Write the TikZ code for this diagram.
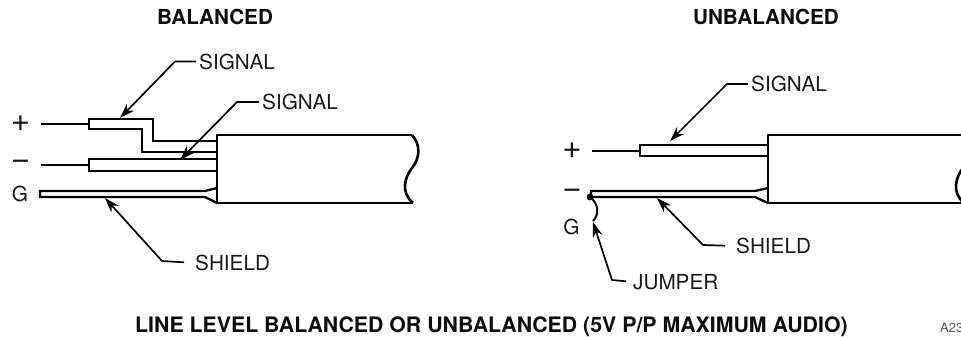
\documentclass[tikz,border=0pt]{standalone}
\usepackage{fontspec}
\setmainfont{TeX Gyre Heros}
\usetikzlibrary{arrows.meta}
\tikzset{
  x=1pt,y=-1pt,
  wire/.style={line width=2.3pt,line join=miter},
  jacket/.style={line width=2.6pt,line join=round},
  lead/.style={line width=2pt},
  leader/.style={line width=1.7pt,line join=round,shorten <=3pt,-{Stealth[length=15pt,width=10pt]}},
  lbl/.style={font=\fontsize{20.7}{22}\selectfont,inner sep=0pt,anchor=west,text=black!90},
  sym/.style={font=\fontsize{33}{34}\selectfont,inner sep=0pt,text=black!90},
  gl/.style={font=\fontsize{20.7}{22}\selectfont,inner sep=0pt,text=black!90},
  ttl/.style={font=\bfseries\fontsize{20.7}{22}\selectfont,inner sep=0pt,text=black!95},
  ttlb/.style={font=\bfseries\fontsize{21.3}{22}\selectfont,inner sep=0pt,text=black!95},
}
\begin{document}
\begin{tikzpicture}
\useasboundingbox (0,0) rectangle (961,337);
\clip (0,0) rectangle (961,337);
% titles
\node[ttl] (t1) at (215,17) {BALANCED};
\node[ttl] (t2) at (766,17) {UNBALANCED};
\node[ttlb,anchor=base west] (t3) at (135,332) {LINE LEVEL BALANCED OR UNBALANCED (5V P/P MAXIMUM AUDIO)};
\node[inner sep=0pt,anchor=west,font=\fontsize{13}{14}\selectfont,text=black!65] (ref) at (940,328) {A23};
% balanced cable
\draw[jacket] (412,135) -- (217,135) -- (217,203) -- (413,203);
\draw[jacket] (412,135) .. controls (421,145) and (420,158) .. (412,168) .. controls (405,177) and (400,192) .. (413,203);
% plus conductor
\node[sym] (p1) at (20.5,124) {+};
\coordinate (p1a) at (41,124); \coordinate (p1b) at (89,124);
\draw[lead] (p1a) -- (p1b);
\draw[wire] (217,141) -- (153,141) -- (153,119) -- (89,119) -- (89,129) -- (142,129) -- (142,152) -- (217,152);
% minus conductor
\node[sym] (m1) at (20.5,165) {\textminus};
\coordinate (m1a) at (41,165); \coordinate (m1b) at (89,165);
\draw[lead] (m1a) -- (m1b);
\draw[wire] (217,159) -- (89,159) -- (89,171) -- (217,171);
% shield
\node[gl] (g1) at (20,194) {G};
\draw[wire] (217,188) -- (205,191) -- (40,191) -- (40,197) -- (205,197) -- (217,203);
% balanced leaders
\node[lbl] (s1) at (199,61.5) {SIGNAL};
\node[lbl] (s2) at (262,102) {SIGNAL};
\node[lbl] (s3) at (195,263) {SHIELD};
\coordinate (a1) at (120,118); \coordinate (a2) at (180,160); \coordinate (a3) at (105,198);
\draw[leader] (s1.west) -- (175,61.5) -- (a1);
\draw[leader] (s2.west) -- (237,102) -- (a2);
\draw[leader,shorten <=11pt] (s3.west) -- (162,261) -- (a3);
% unbalanced cable
\draw[jacket] (961,135) -- (768,135) -- (768,203) -- (961,203);
\draw[jacket] (963,168) .. controls (956,177) and (951,192) .. (964,203);
% plus conductor
\node[sym] (p2) at (572,151) {+};
\coordinate (p2a) at (592,151); \coordinate (p2b) at (640,151);
\draw[lead] (p2a) -- (p2b);
\draw[wire] (768,145) -- (640,145) -- (640,156) -- (768,156);
% shield
\node[sym] (m2) at (572,194) {\textminus};
\node[gl] (g2) at (571.5,227) {G};
\draw[wire] (768,188) -- (755,191) -- (591,191) -- (591,197) -- (755,197) -- (768,203);
\fill (590,197) circle (3.4pt);
\coordinate (j1) at (590,197); \coordinate (j2) at (593,221);
\draw[lead] (j1) .. controls (598,203) and (600,214) .. (j2);
% unbalanced leaders
\node[lbl] (s4) at (751,84) {SIGNAL};
\node[lbl] (s5) at (736,246) {SHIELD};
\node[lbl] (s6) at (633,282) {JUMPER};
\coordinate (a4) at (670,141); \coordinate (a5) at (657,198); \coordinate (a6) at (593,222);
\draw[leader] (s4.west) -- (727,84) -- (a4);
\draw[leader,shorten <=11pt] (s5.west) -- (703,245) -- (a5);
\draw[leader,shorten <=7pt] (s6.west) -- (612,280) -- (a6);
\end{tikzpicture}
\end{document}
